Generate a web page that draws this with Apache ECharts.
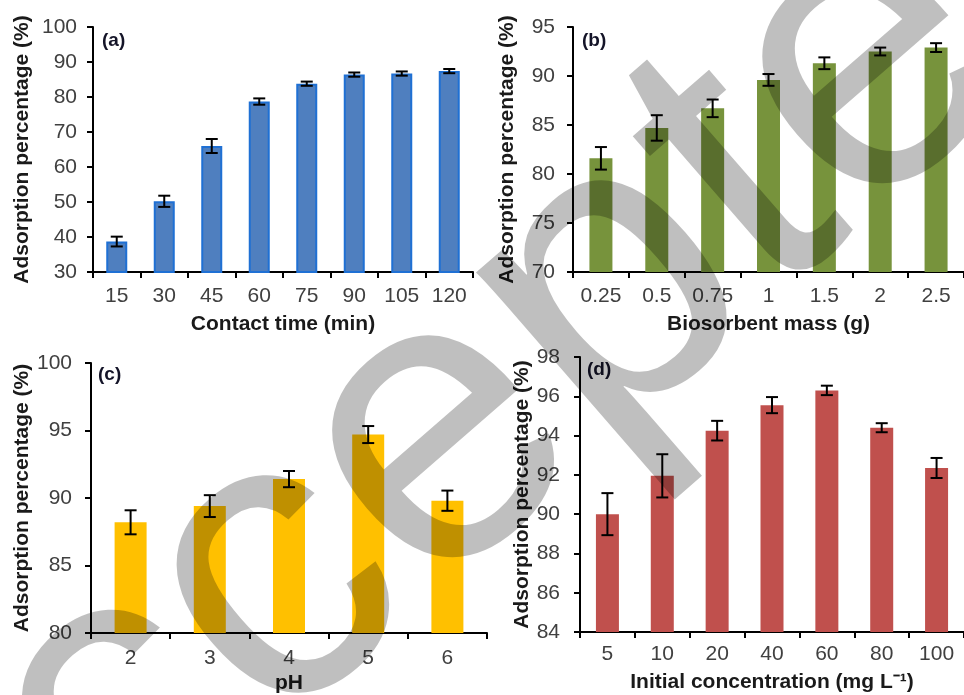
<!DOCTYPE html>
<html>
<head>
<meta charset="utf-8">
<script src="https://cdn.jsdelivr.net/npm/echarts@6/dist/echarts.min.js"></script>
<style>html,body{margin:0;padding:0;background:#fff}#c{width:964px;height:695px}</style>
</head>
<body>
<div id="c"></div>
<script>
// Panel (a): contact time
const catsA = ['15','30','45','60','75','90','105','120'];
const valsA = [38.7, 50.2, 66.0, 78.7, 83.8, 86.4, 86.7, 87.4];
const errA  = [1.4, 1.6, 2.0, 0.9, 0.6, 0.6, 0.6, 0.6];
// Panel (b): biosorbent mass
const catsB = ['0.25','0.5','0.75','1','1.5','2','2.5'];
const valsB = [81.6, 84.7, 86.7, 89.6, 91.3, 92.5, 92.9];
const errB  = [1.15, 1.3, 0.9, 0.6, 0.6, 0.4, 0.45];
// Panel (c): pH
const catsC = ['2','3','4','5','6'];
const valsC = [88.2, 89.4, 91.4, 94.7, 89.8];
const errC  = [0.89, 0.81, 0.6, 0.63, 0.75];
// Panel (d): initial concentration
const catsD = ['5','10','20','40','60','80','100'];
const valsD = [90.0, 91.95, 94.25, 95.55, 96.3, 94.4, 92.35];
const errD  = [1.07, 1.1, 0.5, 0.41, 0.24, 0.23, 0.51];

const FONT = '"Liberation Sans", Arial, sans-serif';
const chart = echarts.init(document.getElementById('c'), null, {renderer:'canvas'});

function xAx(i, cats, name, gap, margin) {
  return {
    type:'category', gridIndex:i, data:cats,
    name:name, nameLocation:'middle', nameGap:gap,
    nameTextStyle:{fontFamily:FONT, fontWeight:'bold', fontSize:21, color:'#1a1a1a'},
    axisLine:{lineStyle:{color:'#000', width:2}},
    axisTick:{show:true, length:6, lineStyle:{color:'#000', width:2}},
    axisLabel:{interval:0, margin:margin, fontFamily:FONT, fontSize:21, color:'#404040'},
    splitLine:{show:false}
  };
}
function yAx(i, min, max, interval, gap, margin) {
  return {
    type:'value', gridIndex:i, min:min, max:max, interval:interval,
    name:'Adsorption percentage (%)', nameLocation:'middle', nameGap:gap,
    nameTextStyle:{fontFamily:FONT, fontWeight:'bold', fontSize:21, color:'#1a1a1a'},
    axisLine:{show:true, lineStyle:{color:'#000', width:2}},
    axisTick:{show:true, length:6, lineStyle:{color:'#000', width:2}},
    axisLabel:{margin:margin, fontFamily:FONT, fontSize:21, color:'#404040'},
    splitLine:{show:false}
  };
}
function barS(i, vals, color, width, border) {
  return {
    type:'bar', xAxisIndex:i, yAxisIndex:i, data:vals, barWidth:width,
    itemStyle:{color:color, borderColor:border || color, borderWidth:border?2:0},
    animation:false, z:2
  };
}
function errS(i, vals, errs) {
  return {
    type:'custom', xAxisIndex:i, yAxisIndex:i, z:5, animation:false,
    data: vals.map((v,k)=>[k, v, errs[k]]),
    renderItem:function(params, api){
      const k = api.value(0), v = api.value(1), e = api.value(2);
      const hi = api.coord([k, v+e]), lo = api.coord([k, v-e]);
      const x = hi[0], w = 6;
      const st = {stroke:'#000', lineWidth:2};
      return {type:'group', children:[
        {type:'line', shape:{x1:x, y1:hi[1], x2:x, y2:lo[1]}, style:st},
        {type:'line', shape:{x1:x-w, y1:hi[1], x2:x+w, y2:hi[1]}, style:st},
        {type:'line', shape:{x1:x-w, y1:lo[1], x2:x+w, y2:lo[1]}, style:st}
      ]};
    }
  };
}
function lbl(t, x, y) {
  return {type:'text', x:x, y:y, z:50, silent:true,
    style:{text:t, fontFamily:FONT, fontWeight:'bold', fontSize:19, fill:'#141428'}};
}

const option = {
  backgroundColor:'#fff',
  animation:false,
  grid:[
    {left:93, top:27, width:380, height:245},
    {left:573, top:27, width:393, height:245},
    {left:91, top:363, width:396, height:275},
    {left:580, top:357, width:394, height:275}
  ],
  xAxis:[
    xAx(0, catsA, 'Contact time (min)', 42, 14),
    xAx(1, catsB, 'Biosorbent mass (g)', 42, 14),
    xAx(2, catsC, 'pH', 40, 15),
    xAx(3, catsD, 'Initial concentration (mg L\u207B\u00B9)', 40, 12)
  ],
  yAxis:[
    yAx(0, 30, 100, 10, 60, 16),
    yAx(1, 70, 95, 5, 55, 18),
    yAx(2, 80, 100, 5, 58, 19),
    yAx(3, 84, 98, 2, 47, 20)
  ],
  series:[
    barS(0, valsA, '#4f7fbf', 21, '#1f70d4'),
    barS(1, valsB, '#77933c', 23),
    barS(2, valsC, '#ffc000', 32),
    barS(3, valsD, '#c0504d', 23),
    errS(0, valsA, errA),
    errS(1, valsB, errB),
    errS(2, valsC, errC),
    errS(3, valsD, errD)
  ],
  graphic:[
    lbl('(a)', 102, 31),
    lbl('(b)', 582, 31),
    lbl('(c)', 98, 365),
    lbl('(d)', 587, 360),
    {type:'text', x:-164, y:966, rotation:0.7156, z:100, silent:true,
     style:{text:'Accepted', font:'410px "Liberation Sans", Arial, sans-serif',
            fill:'rgba(0,0,0,0.25)', textAlign:'left', textVerticalAlign:'middle',
            align:'left', verticalAlign:'middle'}}
  ]
};
chart.setOption(option);
</script>
</body>
</html>
